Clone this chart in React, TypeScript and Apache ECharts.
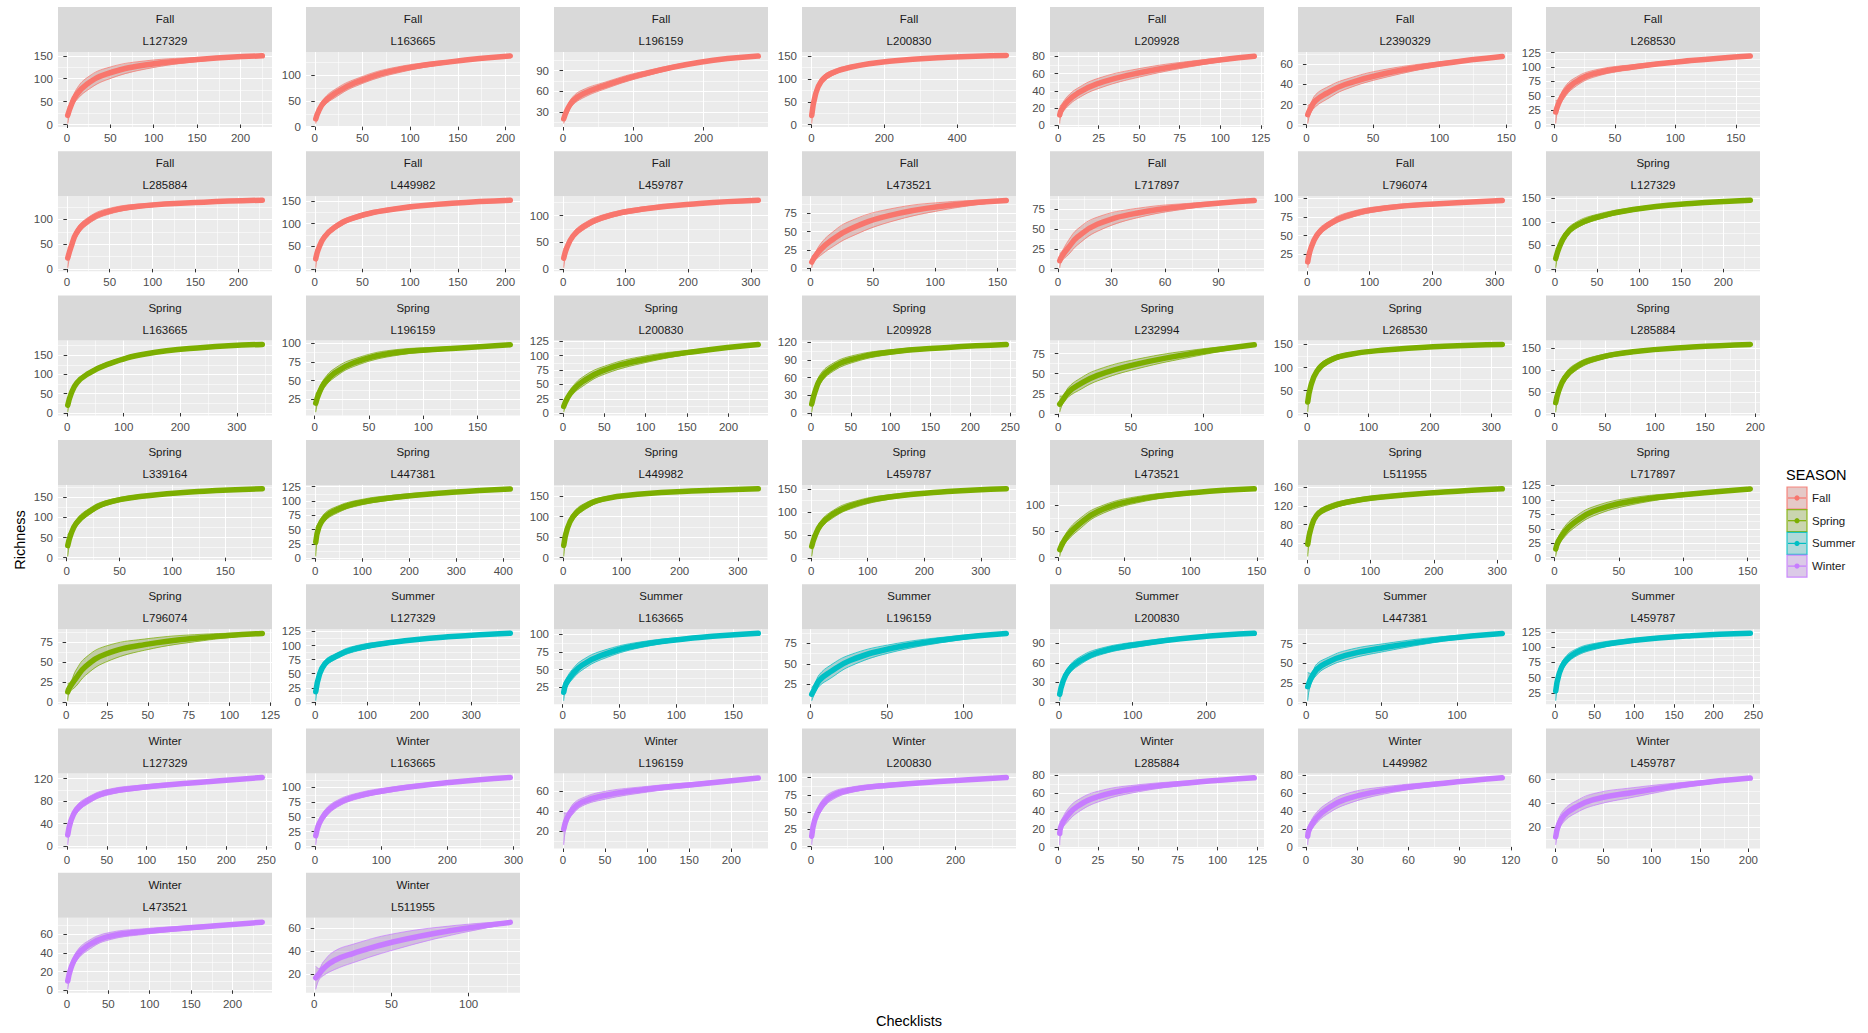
import React, { useEffect, useRef } from "react";
import * as echarts from "echarts";

const FONT = '"Liberation Sans", Arial, Helvetica, sans-serif';

const SEASONS = ["Fall", "Spring", "Summer", "Winter"];
const SEASON_COLORS = ["#F8766D", "#7CAE00", "#00BFC4", "#C77CFF"];
const SEASON_TINTS = ["rgba(248,118,109,0.22)", "rgba(124,174,0,0.22)", "rgba(0,191,196,0.22)", "rgba(199,124,255,0.22)"];

const PANEL_SEASON = [
  "Fall", "Fall", "Fall", "Fall", "Fall", "Fall", "Fall",
  "Fall", "Fall", "Fall", "Fall", "Fall", "Fall", "Spring",
  "Spring", "Spring", "Spring", "Spring", "Spring", "Spring", "Spring",
  "Spring", "Spring", "Spring", "Spring", "Spring", "Spring", "Spring",
  "Spring", "Summer", "Summer", "Summer", "Summer", "Summer", "Summer",
  "Winter", "Winter", "Winter", "Winter", "Winter", "Winter", "Winter",
  "Winter", "Winter",
];

const PANEL_LOCALITY = [
  "L127329", "L163665", "L196159", "L200830", "L209928", "L2390329", "L268530",
  "L285884", "L449982", "L459787", "L473521", "L717897", "L796074", "L127329",
  "L163665", "L196159", "L200830", "L209928", "L232994", "L268530", "L285884",
  "L339164", "L447381", "L449982", "L459787", "L473521", "L511955", "L717897",
  "L796074", "L127329", "L163665", "L196159", "L200830", "L447381", "L459787",
  "L127329", "L163665", "L196159", "L200830", "L285884", "L449982", "L459787",
  "L473521", "L511955",
];

// number of checklists at the end of each curve
const X_MAX = [
  225, 205, 278, 535, 121, 147, 162,
  228, 205, 312, 157, 110, 312, 232,
  345, 180, 236, 245, 135, 318, 195,
  185, 415, 335, 345, 148, 308, 152,
  120, 375, 172, 128, 265, 130, 246,
  245, 295, 232, 270, 123, 115, 202,
  236, 127,
];

// tick spacing of each panel's axes
const X_STEP = [
  50, 50, 100, 200, 25, 50, 50,
  50, 50, 100, 50, 30, 100, 50,
  100, 50, 50, 50, 50, 100, 50,
  50, 100, 100, 100, 50, 100, 50,
  25, 100, 50, 50, 100, 50, 50,
  50, 100, 50, 100, 25, 30, 50,
  50, 50,
];
const Y_STEP = [
  50, 50, 30, 50, 20, 20, 25,
  50, 50, 50, 25, 25, 25, 50,
  50, 25, 25, 30, 25, 50, 50,
  50, 25, 50, 50, 50, 40, 25,
  25, 25, 25, 25, 30, 25, 25,
  40, 25, 20, 25, 20, 20, 20,
  20, 20,
];

// share of the checklists at which richness was read (0 = first checklist)
const SAMPLE_FRACTIONS = [0, 0.02, 0.05, 0.1, 0.2, 0.4, 0.7, 1];

// mean richness at the sampled points
const RICHNESS_MEAN = [
  [20, 42, 65, 88, 110, 130, 143, 150],
  [15, 30, 48, 64, 84, 108, 126, 137],
  [20, 33, 46, 56, 67, 84, 102, 111],
  [20, 65, 95, 112, 126, 139, 148, 152],
  [12, 18, 28, 37, 48, 60, 72, 80],
  [10, 16, 24, 31, 40, 51, 61, 68],
  [22, 35, 55, 72, 88, 100, 111, 119],
  [22, 45, 72, 95, 115, 128, 135, 139],
  [22, 45, 70, 92, 113, 132, 145, 152],
  [20, 40, 62, 78, 96, 112, 123, 129],
  [8, 14, 25, 37, 53, 72, 86, 93],
  [10, 15, 27, 40, 56, 70, 80, 86],
  [15, 33, 51, 63, 76, 87, 93, 97],
  [22, 45, 70, 90, 108, 126, 139, 146],
  [20, 50, 78, 100, 125, 153, 170, 178],
  [20, 33, 47, 60, 74, 87, 93, 98],
  [12, 25, 40, 55, 73, 92, 108, 119],
  [15, 35, 58, 75, 90, 103, 111, 116],
  [12, 17, 27, 36, 48, 62, 76, 86],
  [25, 60, 92, 112, 127, 138, 146, 150],
  [25, 52, 82, 105, 125, 142, 153, 159],
  [30, 58, 85, 110, 135, 153, 165, 171],
  [28, 55, 72, 83, 95, 106, 115, 121],
  [30, 70, 100, 122, 142, 155, 163, 168],
  [25, 48, 72, 92, 113, 132, 144, 150],
  [15, 26, 42, 62, 88, 110, 124, 131],
  [38, 72, 100, 115, 128, 140, 150, 157],
  [15, 28, 45, 60, 80, 98, 110, 119],
  [13, 18, 30, 45, 60, 72, 81, 86],
  [18, 48, 68, 80, 94, 106, 116, 122],
  [18, 30, 44, 56, 70, 85, 95, 101],
  [13, 20, 30, 40, 54, 68, 80, 87],
  [12, 30, 48, 62, 76, 88, 99, 105],
  [20, 30, 42, 50, 60, 70, 81, 88],
  [28, 55, 75, 90, 101, 111, 119, 123],
  [20, 45, 65, 80, 95, 105, 114, 122],
  [18, 38, 55, 70, 84, 97, 109, 117],
  [22, 33, 42, 49, 55, 61, 67, 73],
  [15, 38, 58, 72, 82, 89, 95, 100],
  [15, 24, 35, 45, 56, 65, 72, 77],
  [12, 20, 32, 42, 53, 63, 71, 77],
  [12, 22, 30, 36, 43, 49, 56, 61],
  [10, 24, 37, 47, 57, 63, 68, 73],
  [17, 20, 25, 32, 38, 48, 58, 65],
];

// half-width of the envelope around the mean at the sampled points
const RICHNESS_SPREAD = [
  [18, 8, 12, 14, 13, 9, 4, 1],
  [9, 6, 7, 8, 7, 6, 3, 1],
  [7, 5, 6, 6, 5, 4, 2, 1],
  [18, 8, 7, 6, 4, 3, 2, 0],
  [10, 6, 6, 6, 6, 5, 3, 1],
  [9, 5, 6, 6, 5, 4, 2, 1],
  [20, 8, 9, 8, 6, 4, 2, 1],
  [20, 8, 8, 7, 6, 4, 2, 1],
  [20, 7, 7, 6, 5, 4, 2, 1],
  [18, 6, 6, 6, 5, 4, 2, 1],
  [8, 5, 8, 10, 11, 9, 5, 1],
  [9, 6, 9, 10, 9, 6, 3, 1],
  [8, 5, 5, 4, 4, 3, 2, 1],
  [20, 8, 8, 7, 6, 4, 2, 1],
  [18, 6, 6, 5, 5, 4, 2, 1],
  [12, 6, 6, 6, 5, 4, 2, 1],
  [10, 6, 7, 8, 7, 6, 3, 1],
  [14, 8, 8, 7, 6, 4, 2, 1],
  [10, 5, 6, 7, 7, 6, 4, 1],
  [22, 8, 7, 6, 4, 3, 2, 1],
  [22, 9, 9, 8, 6, 4, 2, 1],
  [27, 10, 9, 8, 6, 4, 2, 1],
  [25, 8, 7, 6, 5, 4, 2, 1],
  [27, 10, 9, 8, 5, 3, 2, 1],
  [22, 8, 8, 8, 7, 5, 2, 1],
  [13, 7, 9, 10, 8, 6, 3, 1],
  [26, 10, 7, 6, 5, 4, 2, 1],
  [13, 8, 9, 9, 8, 6, 3, 1],
  [11, 6, 10, 11, 10, 7, 4, 1],
  [16, 7, 6, 5, 5, 3, 2, 1],
  [12, 7, 7, 7, 6, 4, 2, 1],
  [8, 6, 7, 8, 7, 5, 3, 1],
  [10, 6, 6, 6, 5, 4, 2, 1],
  [18, 7, 7, 6, 6, 5, 3, 1],
  [16, 8, 7, 6, 5, 3, 2, 1],
  [18, 8, 7, 6, 5, 4, 2, 1],
  [16, 7, 7, 6, 5, 4, 2, 1],
  [16, 5, 5, 4, 4, 3, 2, 1],
  [13, 7, 7, 6, 4, 3, 2, 1],
  [13, 6, 7, 7, 6, 4, 2, 1],
  [10, 6, 6, 6, 6, 4, 2, 1],
  [7, 5, 5, 5, 5, 4, 2, 1],
  [9, 5, 5, 5, 4, 3, 2, 1],
  [10, 5, 6, 8, 8, 7, 4, 1],
];

// layout
const N_COLS = 7;
const COL_LEFT0 = 58;
const COL_PITCH = 248;
const PANEL_W = 214;
const ROW_TOP0 = 7;
const ROW_PITCH = 144.3;
const STRIP_H = 45;
const PLOT_H = 75;
const SMOOTH = 0.45;

function breaks(lo: number, hi: number, step: number) {
  const half = step / 2;
  const major: number[] = [];
  const minor: number[] = [];
  const k0 = Math.ceil(lo / half - 1e-9);
  const k1 = Math.floor(hi / half + 1e-9);
  for (let k = k0; k <= k1; k++) {
    const v = k * half;
    if (k % 2 === 0) major.push(v);
    else minor.push(v);
  }
  return { major, minor };
}

function buildOption() {
  const grids: any[] = [];
  const xAxes: any[] = [];
  const yAxes: any[] = [];
  const series: any[] = [];
  const elements: any[] = [];

  PANEL_LOCALITY.forEach((loc, i) => {
    const season = PANEL_SEASON[i];
    const sIdx = SEASONS.indexOf(season);
    const color = SEASON_COLORS[sIdx];
    const tint = SEASON_TINTS[sIdx];
    const col = i % N_COLS;
    const row = Math.floor(i / N_COLS);
    const left = COL_LEFT0 + col * COL_PITCH;
    const top = ROW_TOP0 + row * ROW_PITCH;

    const xMax = X_MAX[i];
    const xs = SAMPLE_FRACTIONS.map((f) => Math.max(1, Math.round(f * xMax)));
    const mean = RICHNESS_MEAN[i];
    const spread = RICHNESS_SPREAD[i];
    const lower = mean.map((m, k) => m - spread[k]);
    const upper = mean.map((m, k) => m + spread[k]);

    const x0 = xs[0];
    const x1 = xs[xs.length - 1];
    const xPad = 0.05 * (x1 - x0);
    const yLo = Math.min(...lower);
    const yHi = Math.max(...upper);
    const yPad = 0.05 * (yHi - yLo);
    const xMinAx = x0 - xPad;
    const xMaxAx = x1 + xPad;
    const yMinAx = yLo - yPad;
    const yMaxAx = yHi + yPad;

    const xb = breaks(xMinAx, xMaxAx, X_STEP[i]);
    const yb = breaks(yMinAx, yMaxAx, Y_STEP[i]);

    grids.push({
      left,
      top: top + STRIP_H,
      width: PANEL_W,
      height: PLOT_H,
      show: true,
      backgroundColor: "#EBEBEB",
      borderWidth: 0,
      containLabel: false,
      outerBoundsMode: "none",
    });

    const labelStyle = {
      color: "#4D4D4D",
      fontSize: 11.5,
      fontFamily: FONT,
      margin: 5,
      formatter: (v: number) => String(Math.round(v)),
    };

    xAxes.push({
      type: "value",
      gridIndex: i,
      min: xMinAx,
      max: xMaxAx,
      position: "bottom",
      axisLine: { show: false },
      axisTick: { show: true, length: 3.5, lineStyle: { color: "#333333", width: 1 }, customValues: xb.major },
      axisLabel: { show: true, customValues: xb.major, ...labelStyle },
      splitLine: { show: true, lineStyle: { color: "#FFFFFF", width: 1.1 } },
      minorTick: { show: false },
      minorSplitLine: { show: false },
    });
    xAxes.push({
      type: "value",
      gridIndex: i,
      min: xMinAx,
      max: xMaxAx,
      position: "bottom",
      axisLine: { show: false },
      axisTick: { show: false, customValues: xb.minor },
      axisLabel: { show: false },
      splitLine: { show: true, lineStyle: { color: "#FFFFFF", width: 0.55 } },
    });
    yAxes.push({
      type: "value",
      gridIndex: i,
      min: yMinAx,
      max: yMaxAx,
      position: "left",
      axisLine: { show: false },
      axisTick: { show: true, length: 3.5, lineStyle: { color: "#333333", width: 1 }, customValues: yb.major },
      axisLabel: { show: true, customValues: yb.major, ...labelStyle },
      splitLine: { show: true, lineStyle: { color: "#FFFFFF", width: 1.1 } },
      minorTick: { show: false },
      minorSplitLine: { show: false },
    });
    yAxes.push({
      type: "value",
      gridIndex: i,
      min: yMinAx,
      max: yMaxAx,
      position: "right",
      axisLine: { show: false },
      axisTick: { show: false, customValues: yb.minor },
      axisLabel: { show: false },
      splitLine: { show: true, lineStyle: { color: "#FFFFFF", width: 0.55 } },
    });

    const common = {
      type: "line",
      xAxisIndex: 2 * i,
      yAxisIndex: 2 * i,
      smooth: SMOOTH,
      symbol: "none",
      showSymbol: false,
      silent: true,
      animation: false,
    };

    // envelope fill, placed through the panel's own axes
    series.push({
      type: "custom",
      xAxisIndex: 2 * i,
      yAxisIndex: 2 * i,
      silent: true,
      animation: false,
      clip: true,
      z: 1,
      data: [[xs[0], mean[0]]],
      renderItem: (_params: any, api: any) => {
        const pts: number[][] = [];
        for (let k = 0; k < xs.length; k++) pts.push(api.coord([xs[k], upper[k]]));
        for (let k = xs.length - 1; k >= 0; k--) pts.push(api.coord([xs[k], lower[k]]));
        return {
          type: "group",
          children: [
            {
              type: "polygon",
              shape: { points: pts, smooth: 0.3 },
              style: { fill: "rgba(153,153,153,0.3)", stroke: null },
              silent: true,
            },
            {
              type: "polygon",
              shape: { points: pts, smooth: 0.3 },
              style: { fill: tint, stroke: null },
              silent: true,
            },
          ],
        };
      },
    });
    series.push({
      ...common,
      data: xs.map((x, k) => [x, lower[k]]),
      lineStyle: { color, width: 0.9, opacity: 0.8 },
      z: 2,
    });
    series.push({
      ...common,
      data: xs.map((x, k) => [x, upper[k]]),
      lineStyle: { color, width: 0.9, opacity: 0.8 },
      z: 2,
    });
    series.push({
      ...common,
      data: xs.map((x, k) => [x, mean[k]]),
      lineStyle: { color, width: 5.5, cap: "round", join: "round" },
      z: 3,
    });

    elements.push({
      type: "rect",
      shape: { x: left, y: top, width: PANEL_W, height: STRIP_H },
      style: { fill: "#D9D9D9" },
      silent: true,
    });
    elements.push({
      type: "text",
      x: left + PANEL_W / 2,
      y: top + 12,
      style: {
        text: season, fontSize: 11.5, fontFamily: FONT, fill: "#1A1A1A",
        align: "center", verticalAlign: "middle", textAlign: "center", textVerticalAlign: "middle",
      },
      silent: true,
    });
    elements.push({
      type: "text",
      x: left + PANEL_W / 2,
      y: top + 34,
      style: {
        text: loc, fontSize: 11.5, fontFamily: FONT, fill: "#1A1A1A",
        align: "center", verticalAlign: "middle", textAlign: "center", textVerticalAlign: "middle",
      },
      silent: true,
    });
  });

  // axis titles
  elements.push({
    type: "text",
    x: 20,
    y: 540,
    rotation: Math.PI / 2,
    style: {
      text: "Richness", fontSize: 14.5, fontFamily: FONT, fill: "#000000",
      align: "center", verticalAlign: "middle", textAlign: "center", textVerticalAlign: "middle",
    },
    silent: true,
  });
  elements.push({
    type: "text",
    x: 909,
    y: 1021,
    style: {
      text: "Checklists", fontSize: 14.5, fontFamily: FONT, fill: "#000000",
      align: "center", verticalAlign: "middle", textAlign: "center", textVerticalAlign: "middle",
    },
    silent: true,
  });

  // legend
  const LEG_X = 1787;
  elements.push({
    type: "text",
    x: LEG_X - 1,
    y: 475,
    style: {
      text: "SEASON", fontSize: 14.5, fontFamily: FONT, fill: "#000000",
      align: "left", verticalAlign: "middle", textAlign: "left", textVerticalAlign: "middle",
    },
    silent: true,
  });
  SEASONS.forEach((s, k) => {
    const cy = 498 + k * 22.7;
    const c = SEASON_COLORS[k];
    elements.push({
      type: "rect",
      shape: { x: LEG_X, y: cy - 11, width: 20, height: 22 },
      style: { fill: "#DCDCDC", stroke: c, lineWidth: 1.2, opacity: 0.85 },
      silent: true,
    });
    elements.push({
      type: "rect",
      shape: { x: LEG_X, y: cy - 11, width: 20, height: 22 },
      style: { fill: SEASON_TINTS[k], stroke: null },
      silent: true,
    });
    elements.push({
      type: "line",
      shape: { x1: LEG_X + 1, y1: cy, x2: LEG_X + 19, y2: cy },
      style: { stroke: c, lineWidth: 1.2 },
      silent: true,
    });
    elements.push({
      type: "circle",
      shape: { cx: LEG_X + 10, cy, r: 2.6 },
      style: { fill: c },
      silent: true,
    });
    elements.push({
      type: "text",
      x: LEG_X + 25,
      y: cy,
      style: {
        text: s, fontSize: 11.5, fontFamily: FONT, fill: "#1A1A1A",
        align: "left", verticalAlign: "middle", textAlign: "left", textVerticalAlign: "middle",
      },
      silent: true,
    });
  });

  return {
    animation: false,
    backgroundColor: "#FFFFFF",
    textStyle: { fontFamily: FONT },
    grid: grids,
    xAxis: xAxes,
    yAxis: yAxes,
    series,
    graphic: { elements },
  };
}

export default function App() {
  const ref = useRef<HTMLDivElement>(null);
  useEffect(() => {
    if (!ref.current) return;
    const chart = echarts.init(ref.current, null, { renderer: "svg" });
    chart.setOption(buildOption() as any);
    return () => chart.dispose();
  }, []);
  return (
    <div
      ref={ref}
      style={{ position: "absolute", left: 0, top: 0, width: 1868, height: 1033, background: "#FFFFFF" }}
    />
  );
}
